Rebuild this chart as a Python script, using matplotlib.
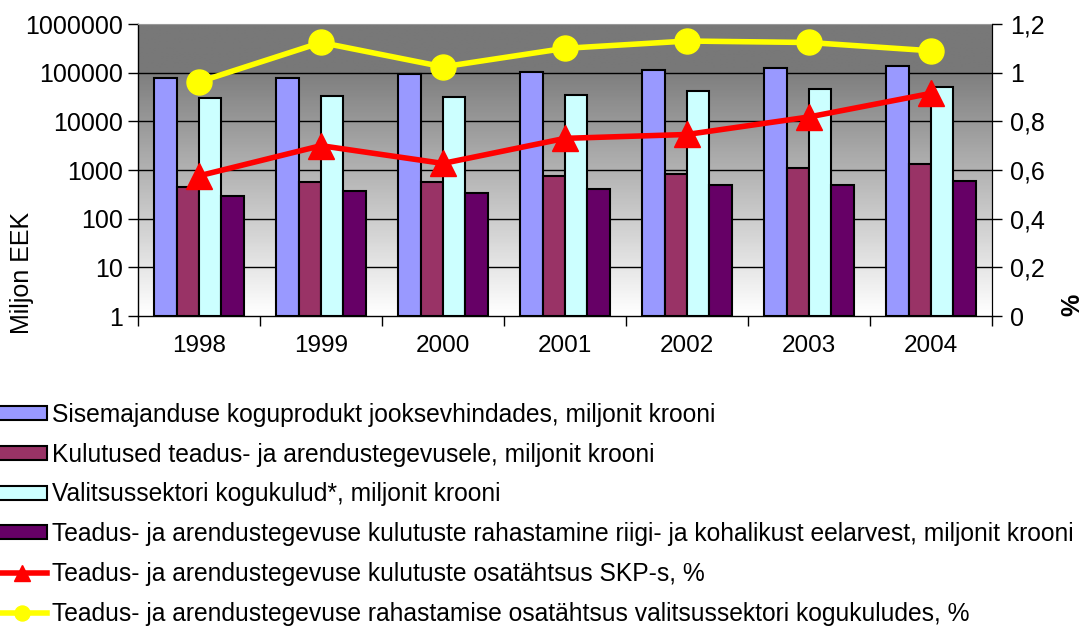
import numpy as np
import matplotlib
matplotlib.use("Agg")
import matplotlib.pyplot as plt
from matplotlib.ticker import FixedLocator, FuncFormatter, NullLocator

plt.rcParams["font.family"] = ["Liberation Sans", "DejaVu Sans"]

# data
years = ["1998", "1999", "2000", "2001", "2002", "2003", "2004"]
gdp = [78000, 78000, 94000, 104000, 115000, 124000, 134000]
rd_spend = [440, 575, 575, 750, 825, 1080, 1300]
gov_spend = [29500, 32500, 32000, 35000, 43000, 46500, 50000]
rd_state = [288, 370, 340, 405, 490, 490, 585]
rd_share_gdp = [0.576, 0.70, 0.627, 0.73, 0.746, 0.818, 0.915]
rd_share_gov = [0.962, 1.124, 1.024, 1.10, 1.13, 1.124, 1.09]

labels = [
    "Sisemajanduse koguprodukt jooksevhindades, miljonit krooni",
    "Kulutused teadus- ja arendustegevusele, miljonit krooni",
    "Valitsussektori kogukulud*, miljonit krooni",
    "Teadus- ja arendustegevuse kulutuste rahastamine riigi- ja kohalikust eelarvest, miljonit krooni",
    "Teadus- ja arendustegevuse kulutuste osatähtsus SKP-s, %",
    "Teadus- ja arendustegevuse rahastamise osatähtsus valitsussektori kogukuludes, %",
]
bar_colors = ["#9999FF", "#993366", "#CCFFFF", "#660066"]

W, H = 1084, 626
fig = plt.figure(figsize=(W / 100, H / 100), dpi=100)
rect = [138 / W, 1 - 316 / H, (992 - 138) / W, (316 - 24) / H]

# gradient background in its own axes
bg = fig.add_axes(rect, zorder=0)
grad = np.concatenate([np.linspace(1.0, 0.5, 83), np.full(17, 0.47)])
bg.imshow(np.repeat(grad[:, None], 2, axis=1), cmap="gray", vmin=0, vmax=1,
          origin="lower", aspect="auto", extent=[0, 1, 0, 1], interpolation="bilinear")
bg.axis("off")

ax = fig.add_axes(rect, zorder=1)
ax.patch.set_visible(False)

x = np.arange(len(years))
ax.set_xlim(-0.5, len(years) - 0.5)
ax.set_yscale("log")
ax.set_ylim(1, 1e6)

for v in [10, 100, 1000, 10000, 100000]:
    ax.axhline(v, color="black", lw=1, zorder=1)

w = 0.184
series = [gdp, rd_spend, gov_spend, rd_state]
handles = []
for i, (vals, c) in enumerate(zip(series, bar_colors)):
    b = ax.bar(x + (i - 1.5) * w, vals, width=w, bottom=1, color=c,
               edgecolor="black", linewidth=1.5, zorder=2, label=labels[i])
    handles.append(b)

ax.yaxis.set_major_locator(FixedLocator([1, 10, 100, 1000, 10000, 100000, 1000000]))
ax.yaxis.set_minor_locator(NullLocator())
ax.yaxis.set_major_formatter(FuncFormatter(lambda v, p: "%d" % round(v)))
ax.set_xticks(np.arange(-0.5, len(years), 1.0))
ax.set_xticklabels([])
ax.set_xticks(x, minor=True)
ax.set_xticklabels(years, minor=True)
ax.tick_params(axis="x", which="major", length=7, width=1, direction="out")
ax.tick_params(axis="x", which="minor", length=0, pad=14, labelsize=17.5)
ax.tick_params(axis="y", length=7, width=1, labelsize=18, pad=4)

ax.spines["top"].set_color("#999999")
ax.spines["left"].set_linewidth(1)
ax.spines["bottom"].set_linewidth(1)

ax2 = ax.twinx()
ax2.set_ylim(0, 1.2)
ax2.set_yticks([0, 0.2, 0.4, 0.6, 0.8, 1.0, 1.2])
ax2.yaxis.set_major_formatter(FuncFormatter(lambda v, p: ("%g" % round(v, 1)).replace(".", ",")))
ax2.tick_params(axis="y", length=7, width=1, labelsize=18, pad=6)
l1, = ax2.plot(x, rd_share_gdp, color="red", lw=4, marker="^", markersize=19, label=labels[4])
l2, = ax2.plot(x, rd_share_gov, color="yellow", lw=4, marker="o", markersize=18, label=labels[5])
handles += [l1, l2]
ax2.spines["top"].set_visible(False)
ax2.spines["left"].set_visible(False)
ax2.spines["bottom"].set_visible(False)

fig.text(22 / W, 1 - 273 / H, "Miljon EEK", rotation=90, ha="center", va="center", fontsize=18)
fig.text(1072 / W, 1 - 305 / H, "%", rotation=90, ha="center", va="center", fontsize=18, fontweight="bold")

fig.legend(handles=handles, labels=labels, loc="upper left", bbox_to_anchor=(-0.003, 1 - 403 / H),
           frameon=False, fontsize=17.7, handlelength=2.05, handleheight=0.5, handletextpad=0.2,
           labelspacing=0.64, borderpad=0, borderaxespad=0, markerscale=0.6)

fig.savefig("out.png", dpi=100)
